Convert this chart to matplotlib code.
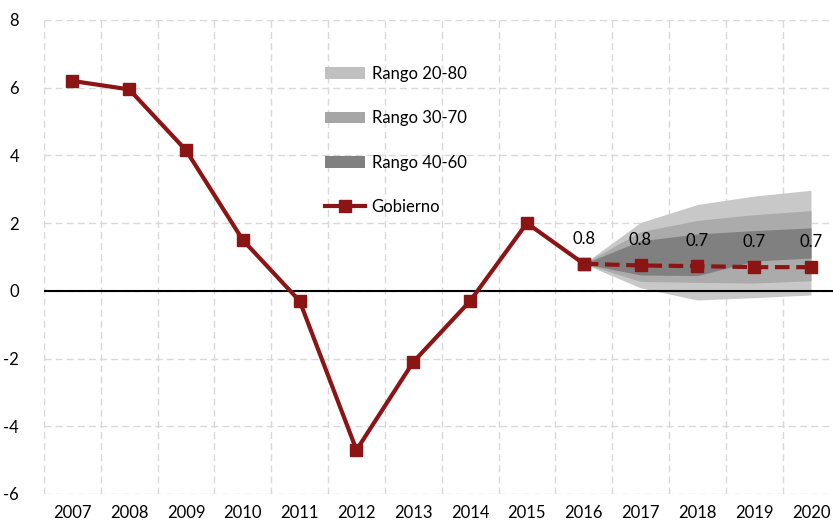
import matplotlib
matplotlib.use("Agg")
import matplotlib.pyplot as plt
from matplotlib.patches import Patch
from matplotlib.lines import Line2D
import numpy as np

plt.rcParams['font.family'] = ['Lato', 'DejaVu Sans']
plt.rcParams['axes.unicode_minus'] = False

years = ['2007', '2008', '2009', '2010', '2011', '2012', '2013',
         '2014', '2015', '2016', '2017', '2018', '2019', '2020']
# historical values (2007-2016)
gobierno_hist = [6.2, 5.95, 4.15, 1.5, -0.3, -4.7, -2.1, -0.3, 2.0, 0.8]
# forecast (2016-2020)
gobierno_proy = [0.8, 0.75, 0.73, 0.7, 0.7]
proy_labels = ['0.8', '0.8', '0.7', '0.7', '0.7']

# fan bands, 2016-2020
r2080_low = [0.8, 0.09, -0.27, -0.2, -0.12]
r2080_high = [0.8, 2.02, 2.55, 2.8, 2.97]
r3070_low = [0.8, 0.28, 0.25, 0.23, 0.3]
r3070_high = [0.8, 1.75, 2.08, 2.25, 2.37]
r4060_low = [0.8, 0.47, 0.45, 0.88, 0.97]
r4060_high = [0.8, 1.48, 1.68, 1.78, 1.86]

red = '#8b1414'
c2080 = '#c8c8c8'
c3070 = '#ababab'
c4060 = '#808080'

fig = plt.figure(figsize=(8.33, 5.30), dpi=100)
ax = fig.add_axes([44 / 833, 1 - 494 / 530, 795.4 / 833, 474 / 530])

x = np.arange(len(years))
xh = x[:len(gobierno_hist)]
xp = x[len(gobierno_hist) - 1:]

ax.fill_between(xp, r2080_low, r2080_high, color=c2080, lw=0, zorder=1)
ax.fill_between(xp, r3070_low, r3070_high, color=c3070, lw=0, zorder=1)
ax.fill_between(xp, r4060_low, r4060_high, color=c4060, lw=0, zorder=1)

ax.axhline(0, color='black', lw=1.5, zorder=2)

ax.plot(xh, gobierno_hist, color=red, lw=3, marker='s', ms=9, zorder=3)
ax.plot(xp, gobierno_proy, color=red, lw=3, ls=(0, (3.5, 1.6)), marker='s', ms=9, zorder=3)

for xi, yi, lab in zip(xp, gobierno_proy, proy_labels):
    ax.annotate(lab, (xi, yi), xytext=(0, 18), textcoords='offset points',
                ha='center', va='center', fontsize=12, color='black', zorder=4)

ax.set_xlim(-0.5, len(years) - 0.5)
ax.set_ylim(-6, 8)
ax.set_yticks(np.arange(-6, 9, 2))
ax.set_xticks(x)
ax.set_xticklabels(years)
ax.set_xticks(np.arange(-0.5, len(years), 1), minor=True)
ax.tick_params(axis='both', which='both', length=0, labelsize=12, colors='black')
ax.tick_params(axis='y', pad=18)
ax.tick_params(axis='x', pad=8)

ax.grid(True, axis='y', which='major', color='#d9d9d9', ls=(0, (5, 3)), lw=1, zorder=0)
ax.grid(True, axis='x', which='minor', color='#d9d9d9', ls=(0, (5, 3)), lw=1, zorder=0)
ax.grid(False, axis='x', which='major')
ax.set_axisbelow(True)
for s in ax.spines.values():
    s.set_visible(False)

handles = [Patch(facecolor='#c0c0c0', edgecolor='none'),
           Patch(facecolor='#a6a6a6', edgecolor='none'),
           Patch(facecolor='#808080', edgecolor='none'),
           Line2D([], [], color=red, lw=3, marker='s', ms=9)]
labels = ['Rango 20-80', 'Rango 30-70', 'Rango 40-60', 'Gobierno']
ax.legend(handles, labels, loc='upper left', bbox_to_anchor=(0.345, 0.917),
          frameon=False, fontsize=12, handlelength=2.4, handleheight=0.7,
          handletextpad=0.4, labelspacing=1.7, borderaxespad=0)

fig.savefig('out.png', dpi=100)
